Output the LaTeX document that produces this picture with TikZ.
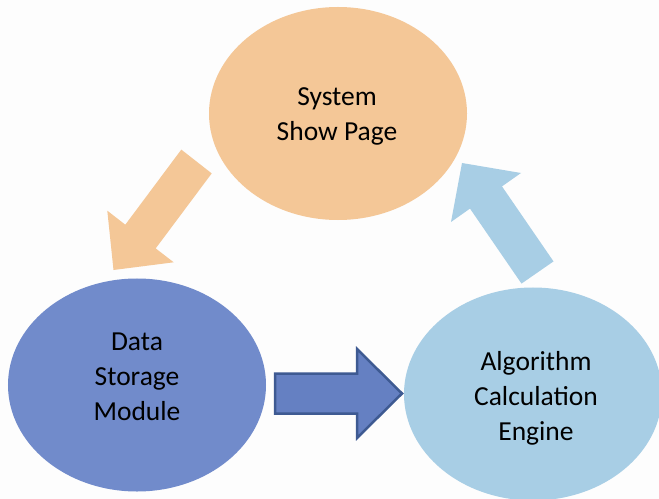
\documentclass[tikz,border=0pt]{standalone}
\usepackage{fontspec}
\setmainfont{Carlito}
\usetikzlibrary{shapes.geometric}
\definecolor{peach}{HTML}{F4C797}
\definecolor{midblue}{HTML}{718BCB}
\definecolor{paleblue}{HTML}{A8CEE5}
\definecolor{arrowblue}{HTML}{6580C2}
\definecolor{arrowedge}{HTML}{3E5A92}
\definecolor{paper}{HTML}{FDFDFD}
\begin{document}
\begin{tikzpicture}[x=1bp,y=-1bp,
  blob/.style={ellipse, minimum width=258bp, minimum height=213bp, inner sep=0pt, draw=none},
  label text/.style={align=center, font=\fontsize{27.5bp}{35bp}\selectfont, text=black, inner sep=0pt},
  blockarrow/.style={draw=none}
]
\useasboundingbox (0,0) rectangle (659,499);
\fill[paper] (0,0) rectangle (659,499);
\clip (0,0) rectangle (659,499);

% ellipses
\node[blob, fill=peach] (show) at (338,113.5) {};
\node[blob, fill=midblue] (store) at (137,385) {};
\node[blob, fill=paleblue] (algo) at (533,394) {};

% texts
\node[label text] (showtext) at (337,116) {System\\Show Page};
\node[label text] (storetext) at (137,377) {Data\\Storage\\Module};
\node[label text] (algotext) at (536,398) {Algorithm\\Calculation\\Engine};

% block arrows
\fill[peach, blockarrow] (181.3,149.6) -- (211.7,173.4) -- (155.7,248.4) -- (173.7,262.3)
  -- (113.5,270) -- (107.3,210.7) -- (125.3,224.7) -- cycle;
\filldraw[fill=arrowblue, draw=arrowedge, line width=2.5bp, line join=miter]
  (275,373.5) -- (357,373.5) -- (357,349) -- (402,393.5) -- (357,438) -- (357,413.5) -- (275,413.5) -- cycle;
\fill[paleblue, blockarrow] (521.5,283.6) -- (553.5,261.4) -- (502,186.4) -- (521,173)
  -- (462,163) -- (451,222) -- (470,208.6) -- cycle;
\end{tikzpicture}
\end{document}
